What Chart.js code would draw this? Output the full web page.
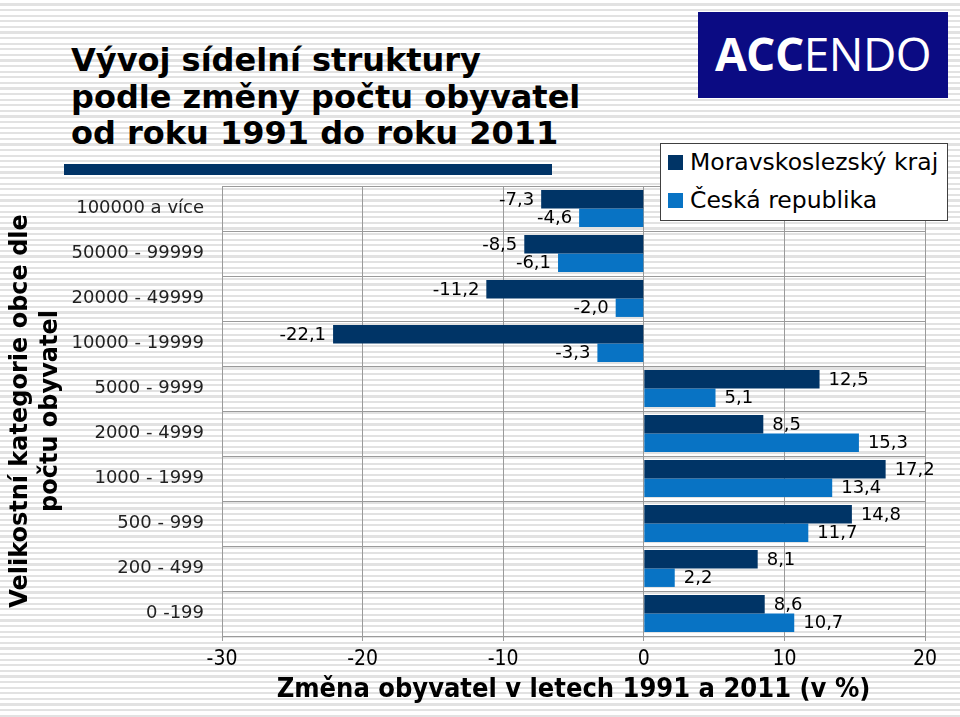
<!DOCTYPE html>
<html>
<head>
<meta charset="utf-8">
<script src="https://cdn.jsdelivr.net/npm/chart.js@4"></script>
<style>
  html, body { margin: 0; padding: 0; }
  body {
    width: 960px; height: 717px; position: relative; overflow: hidden;
    background: repeating-linear-gradient(to bottom, #ffffff 0px, #ffffff 3.4px, #e2e2e2 3.4px, #e2e2e2 5.6px);
    font-family: "DejaVu Sans", Verdana, sans-serif;
  }
  #wrap { position: absolute; left: 0; top: 0; width: 960px; height: 717px; }
  .title {
    position: absolute; left: 71px; top: 42px; font-weight: bold; font-size: 32px;
    line-height: 36.5px; color: #000; white-space: nowrap;
  }
  .titlebar { position: absolute; left: 64px; top: 164px; width: 488px; height: 11px; background: #003366; }
  .logo {
    position: absolute; left: 698px; top: 12px; width: 250px; height: 86px; background: #0b0b83;
    color: #fff; font-family: "Open Sans", "Liberation Sans", sans-serif; font-size: 46px;
    line-height: 82px; text-align: center; letter-spacing: -0.5px;
  }
  .logo b { font-weight: bold; }
  .legend {
    position: absolute; left: 660px; top: 143px; width: 286px; height: 76px; background: #fff;
    border: 1px solid #404040; font-size: 23.5px; color: #000;
  }
  .legend div { position: absolute; left: 7px; white-space: nowrap; line-height: 28px; }
  .legend span { display: inline-block; width: 15px; height: 15px; margin-right: 7px; vertical-align: 0px; }
</style>
</head>
<body>
<div class="title">Vývoj sídelní struktury<br>podle změny počtu obyvatel<br>od roku 1991 do roku 2011</div>
<div class="titlebar"></div>
<div id="wrap"><canvas id="myChart" width="960" height="717"></canvas></div>
<div class="logo"><b>ACC</b>ENDO</div>
<div class="legend" id="legend"></div>
<script>
const categories = ['100000 a více', '50000 - 99999', '20000 - 49999', '10000 - 19999', '5000 - 9999',
                    '2000 - 4999', '1000 - 1999', '500 - 999', '200 - 499', '0 -199'];
const seriesNames = ['Moravskoslezský kraj', 'Česká republika'];
const msk = [-7.3, -8.5, -11.2, -22.1, 12.5, 8.5, 17.2, 14.8, 8.1, 8.6];
const cr = [-4.6, -6.1, -2.0, -3.3, 5.1, 15.3, 13.4, 11.7, 2.2, 10.7];
const xTicks = [-30, -20, -10, 0, 10, 20];
const colors = ['#003466', '#0873c4'];

document.addEventListener("DOMContentLoaded", () => {
    const ctx = document.getElementById('myChart').getContext('2d');

    // value labels beside bar ends, comma decimals
    const barLabels = {
        id: 'barLabels',
        afterDatasetsDraw(chart) {
            const c = chart.ctx;
            c.save();
            c.font = '18px "DejaVu Sans"';
            c.fillStyle = '#000';
            c.textBaseline = 'middle';
            chart.data.datasets.forEach((ds, i) => {
                chart.getDatasetMeta(i).data.forEach((bar, j) => {
                    const v = ds.data[j];
                    const txt = v.toFixed(1).replace('.', ',').replace('-', '\u2010');
                    if (v < 0) {
                        c.textAlign = 'right';
                        c.fillText(txt, bar.x - 7, bar.y + 1);
                    } else {
                        c.textAlign = 'left';
                        c.fillText(txt, bar.x + 9, bar.y + 1);
                    }
                });
            });
            c.restore();
        }
    };

    const data = {
        labels: categories,
        datasets: [
            { label: seriesNames[0], data: msk, backgroundColor: colors[0] },
            { label: seriesNames[1], data: cr, backgroundColor: colors[1] }
        ]
    };

    const config = {
        type: 'bar',
        data: data,
        options: {
            indexAxis: 'y',
            responsive: false,
            animation: false,
            layout: { padding: { left: 0, right: 35, top: 186, bottom: 0 } },
            datasets: { bar: { categoryPercentage: 0.82, barPercentage: 1.0 } },
            plugins: { legend: { display: false }, tooltip: { enabled: false } },
            scales: {
                x: {
                    min: -30, max: 20,
                    afterBuildTicks: (s) => { s.ticks = xTicks.map(v => ({ value: v })); },
                    afterFit: (s) => { s.height = 81; },
                    grid: { color: '#9a9a9a', tickLength: 5, tickColor: '#9a9a9a' },
                    border: { color: '#9a9a9a' },
                    ticks: { color: '#000', font: { family: 'DejaVu Sans Condensed', size: 21 }, padding: 6 },
                    title: {
                        display: true, text: 'Změna obyvatel v letech 1991 a 2011 (v %)', color: '#000',
                        font: { family: 'DejaVu Sans Condensed', size: 27, weight: 'bold', lineHeight: 1.2 },
                        padding: { top: 0, bottom: 11 }
                    }
                },
                y: {
                    afterFit: (s) => { s.width = 222; },
                    grid: { color: '#9a9a9a', drawTicks: false, tickLength: 0 },
                    border: { color: '#9a9a9a' },
                    ticks: { color: '#222', font: { family: 'DejaVu Sans', size: 18 }, padding: 18 },
                    title: {
                        display: true, text: ['Velikostní kategorie obce dle', 'počtu obyvatel'], color: '#000',
                        font: { family: 'DejaVu Sans', size: 24, weight: 'bold', lineHeight: 1.25 },
                        padding: { top: 6, bottom: 0 }
                    }
                }
            }
        },
        plugins: [barLabels]
    };

    const myChart = new Chart(ctx, config);

    // legend box
    const leg = document.getElementById('legend');
    seriesNames.forEach((n, i) => {
        const d = document.createElement('div');
        d.style.top = (i === 0 ? 4 : 42) + 'px';
        d.innerHTML = '<span style="background:' + colors[i] + '"></span>' + n;
        leg.appendChild(d);
    });
});
</script>
</body>
</html>
